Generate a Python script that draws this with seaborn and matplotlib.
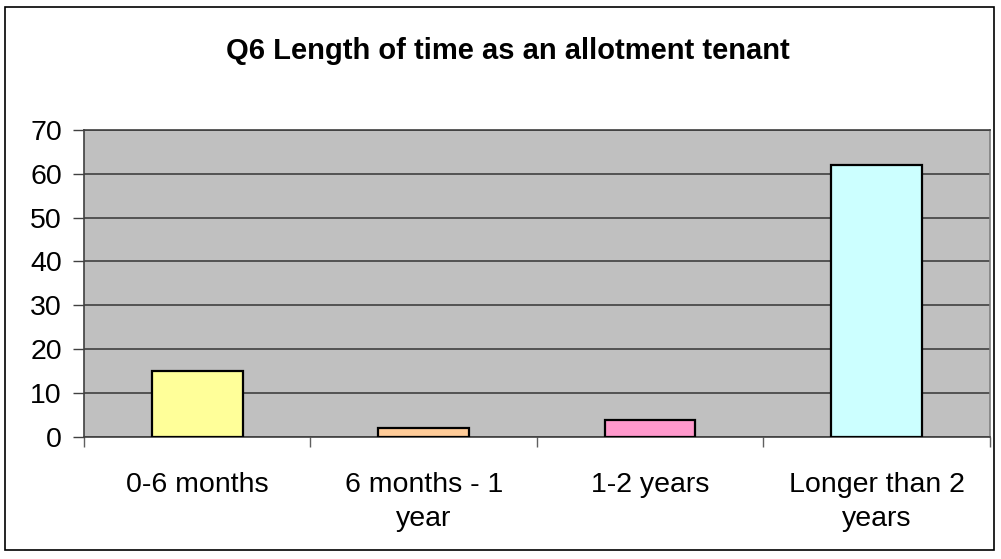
import matplotlib.pyplot as plt
import seaborn as sns
import pandas as pd
from matplotlib.patches import Rectangle

categories = ["0-6 months", "6 months - 1\nyear", "1-2 years", "Longer than 2\nyears"]
values = [15, 2, 4, 62]
bar_colors = ["#FFFF99", "#FFCC99", "#FF99CC", "#CCFFFF"]
y_ticks = [0, 10, 20, 30, 40, 50, 60, 70]

df = pd.DataFrame({"category": categories, "value": values})

sns.set_theme(style="white")
plt.rcParams['font.family'] = ['Liberation Sans', 'DejaVu Sans']
plt.rcParams['text.color'] = 'black'
plt.rcParams['xtick.color'] = 'black'
plt.rcParams['ytick.color'] = 'black'

fig = plt.figure(figsize=(10.01, 5.59), dpi=100)
ax = fig.add_axes([0.0839, 0.218, 0.905, 0.55])
ax.set_facecolor("#C0C0C0")

sns.barplot(data=df, x="category", y="value", hue="category", palette=bar_colors,
            saturation=1, edgecolor="black", linewidth=1.6, width=0.4, legend=False,
            ax=ax, zorder=3)

ax.set_ylim(0, 70)
ax.set_xlim(-0.5, 3.5)
ax.set_yticks(y_ticks)
ax.set_yticklabels([str(t) for t in y_ticks], fontsize=20.5)
ax.yaxis.grid(True, color="#404040", linewidth=1.2, zorder=1)
ax.set_axisbelow(True)

# category labels centred, ticks at category boundaries like Excel
ax.set_xticks(range(len(categories)))
ax.set_xticklabels(categories, fontsize=20.5, linespacing=1.4)
ax.tick_params(axis="x", which="major", length=0, pad=25)
ax.set_xticks([-0.5, 0.5, 1.5, 2.5, 3.5], minor=True)
ax.tick_params(axis="x", which="minor", length=7, width=1, color="#606060", direction="out", bottom=True)
ax.tick_params(axis="y", length=8, width=1, color="#404040", direction="out", left=True, pad=8)

ax.set_xlabel("")
ax.set_ylabel("")

for side in ["left", "bottom", "top"]:
    ax.spines[side].set_color("#404040")
    ax.spines[side].set_linewidth(1.2)
ax.spines["right"].set_color("#808080")
ax.spines["right"].set_linewidth(1.2)

fig.text(0.507, 0.908, "Q6 Length of time as an allotment tenant", ha="center", va="center",
         fontsize=21, fontweight="bold")

fig.patches.append(Rectangle((0.005, 0.016), 0.988, 0.971, transform=fig.transFigure,
                             fill=False, edgecolor="black", linewidth=1.2))

fig.savefig("out.png", dpi=100)
